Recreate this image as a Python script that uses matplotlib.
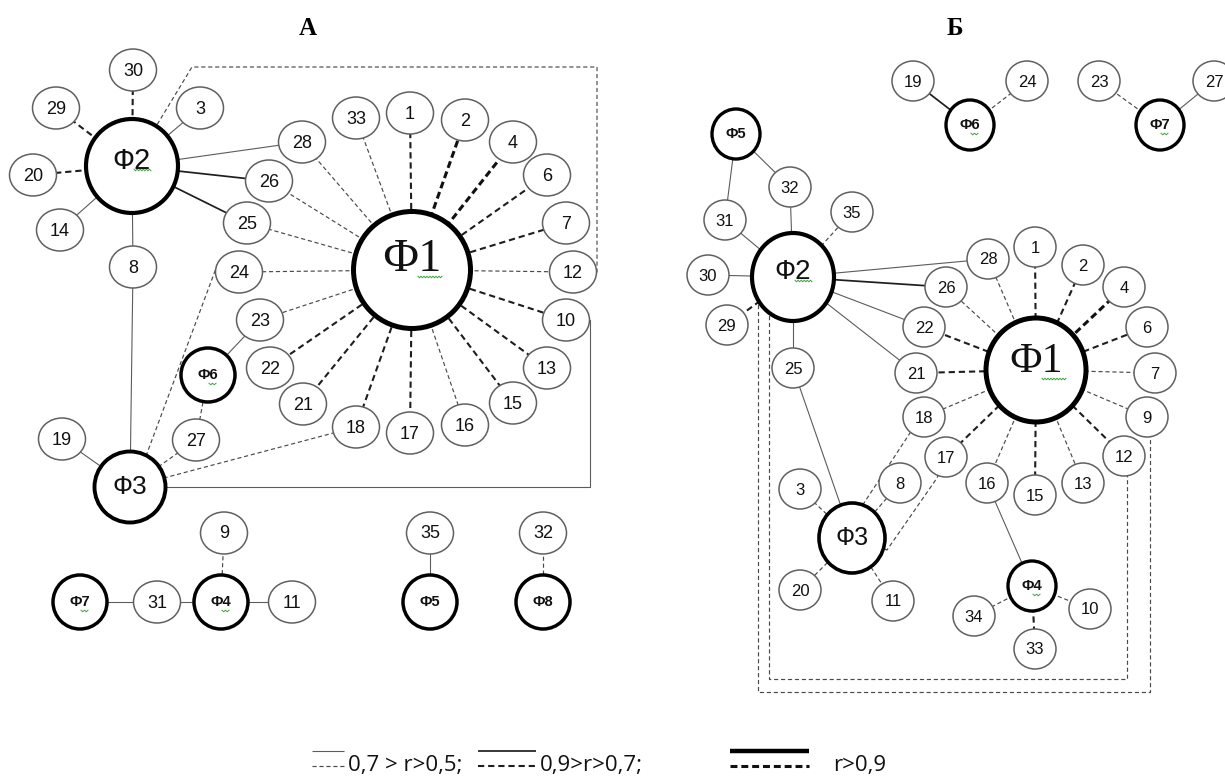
import matplotlib.pyplot as plt
from matplotlib.patches import Ellipse

plt.rcParams['lines.scale_dashes'] = False

SANS = ['Liberation Sans', 'DejaVu Sans']
NARROW = ['Liberation Sans Narrow', 'Liberation Sans', 'DejaVu Sans']
SERIF = ['Liberation Serif', 'DejaVu Serif']

# ---- panel А: factor / indicator links ----
# class: w = 0,7>r>0,5 ; m = 0,9>r>0,7 ; s = r>0,9 ; '+' solid, '-' dashed
a_links = [
    ('Ф1', '28', 'w-'), ('Ф1', '26', 'w-'), ('Ф1', '25', 'w-'), ('Ф1', '33', 'w-'),
    ('Ф1', '1', 'm-'), ('Ф1', '2', 's-'), ('Ф1', '4', 's-'), ('Ф1', '6', 'm-'),
    ('Ф1', '7', 'm-'), ('Ф1', '12', 'w-'), ('Ф1', '10', 'm-'), ('Ф1', '13', 'm-'),
    ('Ф1', '15', 'm-'), ('Ф1', '16', 'w-'), ('Ф1', '17', 'm-'), ('Ф1', '18', 'm-'),
    ('Ф1', '21', 'm-'), ('Ф1', '22', 'm-'), ('Ф1', '23', 'w-'), ('Ф1', '24', 'w-'),
    ('Ф2', '30', 'm-'), ('Ф2', '29', 'm-'), ('Ф2', '3', 'w+'), ('Ф2', '20', 'm-'),
    ('Ф2', '14', 'w+'), ('Ф2', '28', 'w+'), ('Ф2', '26', 'm+'), ('Ф2', '25', 'm+'),
    ('Ф2', '8', 'w+'), ('Ф2', '12', 'w-'),
    ('Ф3', '8', 'w+'), ('Ф3', '19', 'w+'), ('Ф3', '24', 'w-'), ('Ф3', '27', 'w-'),
    ('Ф3', '18', 'w-'), ('Ф3', '10', 'w+'),
    ('Ф6', '23', 'w+'), ('Ф6', '27', 'w-'),
    ('Ф7', '31', 'w+'), ('Ф4', '31', 'w+'), ('Ф4', '11', 'w+'), ('Ф4', '9', 'w-'),
    ('Ф5', '35', 'w+'), ('Ф8', '32', 'w-'),
]

# ---- panel Б ----
b_links = [
    ('Ф1', '28', 'w-'), ('Ф1', '26', 'w-'), ('Ф1', '22', 'm-'), ('Ф1', '21', 'm-'),
    ('Ф1', '18', 'w-'), ('Ф1', '17', 'm-'), ('Ф1', '16', 'w-'), ('Ф1', '15', 'm-'),
    ('Ф1', '13', 'w-'), ('Ф1', '12', 'm-'), ('Ф1', '9', 'w-'), ('Ф1', '7', 'w-'),
    ('Ф1', '6', 'm-'), ('Ф1', '4', 's-'), ('Ф1', '2', 'm-'), ('Ф1', '1', 'm-'),
    ('Ф2', '32', 'w+'), ('Ф2', '31', 'w+'), ('Ф2', '35', 'w-'), ('Ф2', '30', 'w+'),
    ('Ф2', '29', 'm-'), ('Ф2', '28', 'w+'), ('Ф2', '26', 'm+'), ('Ф2', '22', 'w+'),
    ('Ф2', '21', 'w+'), ('Ф2', '25', 'w+'), ('Ф2', '9', 'w-'), ('Ф2', '12', 'w-'),
    ('Ф5', '32', 'w+'), ('Ф5', '31', 'w+'),
    ('Ф3', '25', 'w+'), ('Ф3', '3', 'w-'), ('Ф3', '8', 'w-'), ('Ф3', '18', 'w-'),
    ('Ф3', '17', 'w-'), ('Ф3', '20', 'w-'), ('Ф3', '11', 'w-'),
    ('Ф4', '16', 'w+'), ('Ф4', '34', 'w-'), ('Ф4', '10', 'w-'), ('Ф4', '33', 'm-'),
    ('Ф6', '19', 'm+'), ('Ф6', '24', 'w-'),
    ('Ф7', '23', 'w-'), ('Ф7', '27', 'w+'),
]

legend_labels = ['0,7 > r>0,5;', '0,9>r>0,7;', 'r>0,9']

# ---- layout (pixels, origin top-left) ----
a_pos = {
    'Ф1': (412, 270), 'Ф2': (132, 166), 'Ф3': (130, 487), 'Ф6': (208, 375),
    'Ф7': (80, 602), 'Ф4': (221, 602), 'Ф5': (430, 602), 'Ф8': (543, 602),
    '30': (133, 70), '29': (56, 108), '3': (200, 108), '20': (33, 175), '14': (60, 230),
    '28': (302, 142), '26': (269, 181), '25': (247, 223), '8': (133, 267), '24': (239, 272),
    '33': (356, 118), '1': (410, 113), '2': (465, 120), '4': (513, 142), '6': (547, 175),
    '7': (566, 223), '12': (573, 272), '10': (566, 320), '13': (547, 368), '15': (513, 403),
    '16': (465, 425), '17': (410, 433), '18': (356, 427), '21': (303, 404), '22': (270, 368),
    '23': (260, 320), '27': (196, 440), '19': (62, 439),
    '9': (224, 533), '31': (157, 602), '11': (292, 602), '35': (430, 533), '32': (543, 533),
}
a_routes = {
    ('Ф2', '12'): [(192, 67), (597, 67), (597, 272)],
    ('Ф3', '10'): [(590, 487), (590, 320)],
    ('Ф3', '24'): [(146, 456), (218, 263)],
}
a_size = {'Ф1': (117, 117, 3.6), 'Ф2': (92, 94, 3.0), 'Ф3': (71, 71, 2.8),
          'small': (54, 54, 2.5), 'item': (47, 42, 1.1)}
a_font = {'Ф1': (SERIF, 33, 'normal', -10), 'Ф2': (SANS, 21, 'normal', -5),
          'Ф3': (SANS, 19, 'normal', 0), 'small': (SANS, 10.5, 'bold', 0),
          'item': (NARROW, 13, 'normal', 1)}

b_pos = {
    'Ф1': (1036, 370), 'Ф2': (793, 277), 'Ф3': (852, 538), 'Ф4': (1032, 586),
    'Ф5': (736, 134), 'Ф6': (970, 125), 'Ф7': (1160, 125),
    '19': (913, 81), '24': (1027, 81), '23': (1099, 81), '27': (1214, 81),
    '32': (790, 187), '31': (725, 220), '35': (852, 212), '30': (708, 275), '29': (727, 325),
    '28': (988, 259), '26': (946, 287), '22': (924, 327), '21': (916, 373), '25': (793, 368),
    '1': (1035, 247), '2': (1083, 265), '4': (1124, 287), '6': (1147, 327), '7': (1155, 373),
    '9': (1147, 417), '12': (1124, 456), '13': (1083, 483), '15': (1035, 495), '16': (987, 483),
    '17': (946, 457), '18': (924, 417),
    '3': (800, 489), '8': (900, 483), '20': (800, 590), '11': (893, 601),
    '34': (974, 616), '10': (1090, 609), '33': (1035, 649),
}
b_routes = {
    ('Ф2', '9'): [(758, 277), (758, 692), (1150, 692), (1150, 417)],
    ('Ф2', '12'): [(769, 277), (769, 679), (1127, 679), (1127, 456)],
    ('Ф3', '18'): [(862, 506), (910, 433)],
    ('Ф3', '17'): [(887, 550), (937, 478)],
}
b_size = {'Ф1': (100, 104, 3.6), 'Ф2': (82, 88, 3.0), 'Ф3': (66, 70, 2.6),
          'small': (48, 50, 2.4), 'item': (42, 40, 1.1)}
b_font = {'Ф1': (SERIF, 30, 'normal', -8), 'Ф2': (SANS, 20, 'normal', -5),
          'Ф3': (SANS, 18, 'normal', 0), 'small': (SANS, 10.5, 'bold', 0),
          'item': (NARROW, 12, 'normal', 1)}

# squiggly underline under some factor labels (dx0, dx1, dy)
squiggle = {'Ф1': (6, 30, 17), 'Ф2': (2, 19, 9), 'small': (1, 8, 9)}
a_squiggled = ['Ф1', 'Ф2', 'Ф4', 'Ф6', 'Ф7']
b_squiggled = ['Ф1', 'Ф2', 'Ф4', 'Ф6', 'Ф7']

LINE_STYLE = {
    'w+': dict(color='#5c5c5c', lw=0.8, ls='-'),
    'w-': dict(color='#4a4a4a', lw=0.85, ls=(0, (3.0, 2.0))),
    'm+': dict(color='#1e1e1e', lw=1.25, ls='-'),
    'm-': dict(color='#1e1e1e', lw=1.5, ls=(0, (4.5, 2.8))),
    's-': dict(color='#111111', lw=2.2, ls=(0, (5.0, 2.8))),
}


def kind(name):
    if name in ('Ф1', 'Ф2', 'Ф3'):
        return name
    if name.startswith('Ф'):
        return 'small'
    return 'item'


def draw_panel(ax, links, pos, routes, size, font, squiggled):
    for u, v, cls in links:
        pts = [pos[u]] + routes.get((u, v), []) + [pos[v]]
        xs, ys = zip(*pts)
        ax.plot(xs, ys, zorder=1, solid_capstyle='butt', **LINE_STYLE[cls])
    for name, (x, y) in pos.items():
        k = kind(name)
        w, h, lw = size[k]
        ec = '#606060' if k == 'item' else 'black'
        ax.add_patch(Ellipse((x, y), w, h, facecolor='white', edgecolor=ec,
                             lw=lw, zorder=2))
        fam, fs, fw, dy = font[k]
        ax.text(x, y + dy, name, family=fam, fontsize=fs, fontweight=fw,
                ha='center', va='center', color='#111111', zorder=3)
        if name in squiggled:
            x0, x1, sy = squiggle['small' if k == 'small' else k]
            n = int((x1 - x0) / 1.5)
            zx = [x + x0 + i * (x1 - x0) / n for i in range(n + 1)]
            zy = [y + dy + sy + (0.8 if i % 2 else -0.8) for i in range(n + 1)]
            ax.plot(zx, zy, color='#3aa53a', lw=0.7, zorder=3)


fig = plt.figure(figsize=(12.25, 7.78), dpi=100)
ax = fig.add_axes([0, 0, 1, 1])
ax.set_xlim(0, 1225)
ax.set_ylim(778, 0)
ax.axis('off')

draw_panel(ax, a_links, a_pos, a_routes, a_size, a_font, a_squiggled)
draw_panel(ax, b_links, b_pos, b_routes, b_size, b_font, b_squiggled)

ax.text(308, 28, 'А', family=SERIF, fontsize=18, fontweight='bold', ha='center', va='center')
ax.text(955, 28, 'Б', family=SERIF, fontsize=18, fontweight='bold', ha='center', va='center')

# legend: solid sample over dashed sample, then label
legend_items = [('w', 312, 344, 348), ('m', 478, 536, 540), ('s', 730, 809, 833)]
for (cls, x0, x1, tx), label in zip(legend_items, legend_labels):
    solid = LINE_STYLE[cls + '+'] if cls != 's' else dict(color='black', lw=3.2, ls='-')
    dashed = LINE_STYLE[cls + '-']
    ax.plot([x0, x1], [751, 751], solid_capstyle='butt', **solid)
    ax.plot([x0, x1], [766, 766], solid_capstyle='butt', **dashed)
    ax.text(tx, 765, label, family=['Open Sans', 'DejaVu Sans'], fontsize=16,
            ha='left', va='center', color='#111111')

fig.savefig('out.png', dpi=100)
